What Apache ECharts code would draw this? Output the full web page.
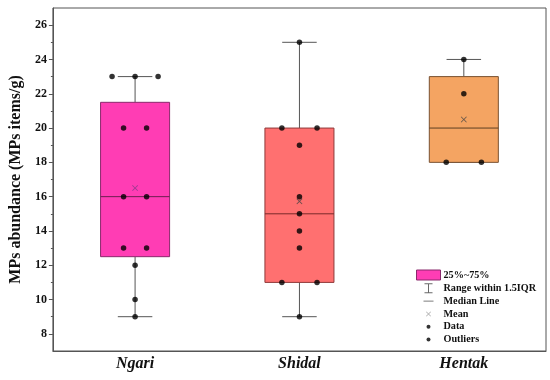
<!DOCTYPE html>
<html>
<head>
<meta charset="utf-8">
<script src="https://cdn.jsdelivr.net/npm/echarts@6/dist/echarts.min.js"></script>
<style>html,body{margin:0;padding:0;background:#fff}#c{width:550px;height:380px}</style>
</head>
<body>
<div id="c"></div>
<script>
const categories = ['Ngari', 'Shidal', 'Hentak'];
// [whiskerMin, Q1, median, Q3, whiskerMax]
const ngariBox = [9, 12.5, 16, 21.5, 23];
const shidalBox = [9, 11, 15, 20, 25];
const hentakBox = [18, 18, 20, 23, 24];
// raw data points and their horizontal jitter (in category units)
const ngariValues = [23, 23, 23, 20, 20, 16, 16, 13, 13, 12, 10, 9];
const ngariJitter = [-0.14, 0, 0.14, -0.07, 0.07, -0.07, 0.07, -0.07, 0.07, 0, 0, 0];
const shidalValues = [25, 20, 20, 19, 16, 15, 14, 13, 11, 11, 9];
const shidalJitter = [0, -0.107, 0.107, 0, 0, 0, 0, 0, -0.107, 0.107, 0];
const hentakValues = [24, 22, 18, 18];
const hentakJitter = [0, 0, -0.107, 0.107];
const yTickValues = [8, 10, 12, 14, 16, 18, 20, 22, 24, 26];
const yMinorTickValues = [9, 11, 13, 15, 17, 19, 21, 23, 25];

const boxFill = ['#FF3DB4', '#FF7070', '#F4A462'];
const boxBorder = ['#8A2A6C', '#8E3A3A', '#7A5232'];
const medianColor = ['#6E1F50', '#7A2A2A', '#5E3E22'];
const meanColor = ['#8A3A8A', '#444', '#444'];

const boxes = [ngariBox, shidalBox, hentakBox];
const valueSets = [ngariValues, shidalValues, hentakValues];
const jitterSets = [ngariJitter, shidalJitter, hentakJitter];

const boxData = boxes.map((b, i) => [i].concat(b));
const pointData = [];
valueSets.forEach((vals, i) => vals.forEach((v, k) => pointData.push([i + jitterSets[i][k], v])));
const meanData = valueSets.map((vals, i) => ({
  value: [i, vals.reduce((a, b) => a + b, 0) / vals.length],
  itemStyle: { color: meanColor[i] }
}));

const font = 'Liberation Serif';
const crossPath = 'path://M0,0M20,20M5,6L6,5L10,9L14,5L15,6L11,10L15,14L14,15L10,11L6,15L5,14L9,10Z';
const dotPath = 'path://M0,0M20,20M6,10A4,4 0 1,1 14,10A4,4 0 1,1 6,10Z';

function renderBox(params, api) {
  const i = api.value(0);
  const bw = api.size([1, 0])[0] * 0.42;
  const pMin = api.coord([i, api.value(1)]);
  const pQ1 = api.coord([i, api.value(2)]);
  const pMed = api.coord([i, api.value(3)]);
  const pQ3 = api.coord([i, api.value(4)]);
  const pMax = api.coord([i, api.value(5)]);
  const x = pMed[0];
  const cap = bw / 4;
  const ws = { stroke: '#555', lineWidth: 1 };
  return {
    type: 'group',
    children: [
      { type: 'line', shape: { x1: x, y1: pQ3[1], x2: x, y2: pMax[1] }, style: ws },
      { type: 'line', shape: { x1: x, y1: pQ1[1], x2: x, y2: pMin[1] }, style: ws },
      { type: 'line', shape: { x1: x - cap, y1: pMax[1], x2: x + cap, y2: pMax[1] }, style: ws },
      { type: 'line', shape: { x1: x - cap, y1: pMin[1], x2: x + cap, y2: pMin[1] }, style: ws },
      { type: 'rect', shape: { x: x - bw / 2, y: pQ3[1], width: bw, height: pQ1[1] - pQ3[1] },
        style: { fill: boxFill[i], stroke: boxBorder[i], lineWidth: 1 } },
      { type: 'line', shape: { x1: x - bw / 2, y1: pMed[1], x2: x + bw / 2, y2: pMed[1] },
        style: { stroke: medianColor[i], lineWidth: 1 } }
    ]
  };
}

const chart = echarts.init(document.getElementById('c'), null, { renderer: 'canvas' });
chart.setOption({
  animation: false,
  grid: { left: 49, right: 4, top: 8, bottom: 29, show: true, borderColor: '#555', borderWidth: 1 },
  legend: {
    orient: 'vertical', left: 411, top: 264.5, itemWidth: 24, itemHeight: 10, itemGap: 2.8,
    selectedMode: false,
    textStyle: { fontFamily: font, fontWeight: 'bold', fontSize: 10.2, lineHeight: 10, color: '#111', padding: [0, 0, 0, -2] },
    data: [
      { name: '25%~75%', icon: 'rect', itemStyle: { color: boxFill[0], borderColor: boxBorder[0], borderWidth: 1 } },
      { name: 'Range within 1.5IQR', icon: 'path://M0,0H8V1H4.5V9H8V10H0V9H3.5V1H0Z', itemStyle: { color: '#444', borderWidth: 0 } },
      { name: 'Median Line', icon: 'path://M0,0M10,10M0,4.6H10V5.4H0Z', itemStyle: { color: '#333', borderWidth: 0 } },
      { name: 'Mean', icon: crossPath, itemStyle: { color: '#999', borderWidth: 0 } },
      { name: 'Data', icon: dotPath, itemStyle: { color: '#000', borderWidth: 0 } },
      { name: 'Outliers', icon: dotPath, itemStyle: { color: '#000', borderWidth: 0 } }
    ]
  },
  xAxis: [
    {
      type: 'category', data: categories, boundaryGap: true,
      axisLine: { onZero: false, lineStyle: { color: '#555' } },
      axisTick: { alignWithLabel: true, length: 3, lineStyle: { color: '#555' } },
      axisLabel: { fontFamily: font, fontWeight: 'bold', fontStyle: 'italic', fontSize: 16, color: '#111', margin: 5 }
    },
    { type: 'value', min: -0.5, max: 2.5, show: false, axisLine: { onZero: false } }
  ],
  yAxis: [
    {
      type: 'value', min: 7, max: 27,
      name: 'MPs abundance (MPs items/g)', nameLocation: 'middle', nameGap: 25,
      nameTextStyle: { fontFamily: font, fontWeight: 'bold', fontSize: 16, color: '#111' },
      splitLine: { show: false },
      axisLine: { show: true, onZero: false, lineStyle: { color: '#555' } },
      axisTick: { show: true, length: 4, customValues: yTickValues, lineStyle: { color: '#555' } },
      axisLabel: { customValues: yTickValues, fontFamily: font, fontWeight: 'bold', fontSize: 12, color: '#111', margin: 6 }
    },
    {
      type: 'value', min: 7, max: 27, position: 'left',
      splitLine: { show: false },
      axisLine: { show: false, onZero: false },
      axisTick: { show: true, length: 2, customValues: yMinorTickValues, lineStyle: { color: '#555' } },
      axisLabel: { show: false }
    }
  ],
  series: [
    { name: '25%~75%', type: 'custom', renderItem: renderBox, data: boxData,
      encode: { x: 0, y: [1, 2, 3, 4, 5] }, itemStyle: { color: boxFill[0] }, z: 2 },
    { name: 'Range within 1.5IQR', type: 'scatter', data: [], itemStyle: { color: '#444' } },
    { name: 'Median Line', type: 'scatter', data: [], itemStyle: { color: '#333' } },
    { name: 'Mean', type: 'scatter', xAxisIndex: 1, data: meanData, symbol: 'path://M0,1L1,0L5,4L9,0L10,1L6,5L10,9L9,10L5,6L1,10L0,9L4,5Z',
      symbolSize: 6, itemStyle: { color: '#888' }, z: 4 },
    { name: 'Data', type: 'scatter', xAxisIndex: 1, data: pointData, symbol: 'circle', symbolSize: 5.5,
      itemStyle: { color: '#000' }, z: 5 },
    { name: 'Outliers', type: 'scatter', xAxisIndex: 1, data: [], itemStyle: { color: '#000' } }
  ]
});
</script>
</body>
</html>
